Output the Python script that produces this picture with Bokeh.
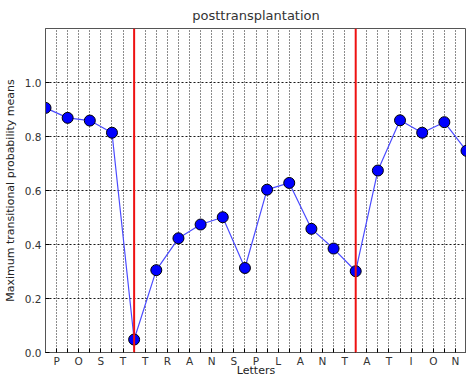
from bokeh.plotting import figure
from bokeh.models import Range1d, FixedTicker, Span, ColumnDataSource, PrintfTickFormatter
from bokeh.embed import file_html
from bokeh.resources import INLINE

# ---- data ----
letters = list("POSTTRANSPLANTATION")
values = [0.906, 0.869, 0.859, 0.814, 0.048, 0.305, 0.423, 0.474, 0.501, 0.313,
          0.603, 0.628, 0.458, 0.385, 0.301, 0.674, 0.860, 0.814, 0.853, 0.747]
boundaries = [4, 14]
y_ticks = [0.0, 0.2, 0.4, 0.6, 0.8, 1.0]

positions = list(range(len(values)))
letter_pos = [i + 0.5 for i in range(len(letters))]

FONT = "DejaVu Sans"

p = figure(width=466, height=379, output_backend="svg", toolbar_location=None,
           x_range=Range1d(0, len(values) - 1), y_range=Range1d(0, 1.2),
           title="posttransplantation",
           min_border_left=43, min_border_right=0, min_border_top=28, min_border_bottom=23)

p.background_fill_color = "white"
p.border_fill_color = "white"
p.outline_line_color = "#555555"
p.outline_line_width = 1

# title
p.title.align = "center"
p.title.text_font = FONT
p.title.text_font_size = "13px"
p.title.text_font_style = "normal"
p.title.text_color = "#333333"
p.title.standoff = 11

# x axis
xa = p.xaxis[0]
xa.ticker = FixedTicker(ticks=letter_pos, minor_ticks=positions)
xa.major_label_overrides = {lp: l for lp, l in zip(letter_pos, letters)}
xa.major_label_text_font = FONT
xa.major_label_text_font_size = "10.5px"
xa.major_label_text_color = "#333333"
xa.major_label_standoff = 2
xa.major_tick_out = 0
xa.major_tick_in = 4
xa.minor_tick_out = 0
xa.minor_tick_in = 4
xa.axis_line_color = "#555555"
xa.axis_label = "Letters"
xa.axis_label_text_font = FONT
xa.axis_label_text_font_size = "11px"
xa.axis_label_text_font_style = "normal"
xa.axis_label_text_color = "#222222"
xa.axis_label_standoff = -6

# y axis
ya = p.yaxis[0]
ya.ticker = FixedTicker(ticks=y_ticks)
ya.formatter = PrintfTickFormatter(format="%.1f")
ya.axis_label = "Maximum transitional probability means"
ya.axis_label_text_font = FONT
ya.axis_label_text_font_size = "11px"
ya.axis_label_text_font_style = "normal"
ya.axis_label_text_color = "#222222"
ya.axis_label_standoff = 5
ya.major_label_text_font = FONT
ya.major_label_text_font_size = "10.5px"
ya.major_label_text_color = "#333333"
ya.major_label_standoff = 4
ya.major_tick_out = 0
ya.major_tick_in = 4
ya.minor_tick_out = 0
ya.minor_tick_in = 0
ya.axis_line_color = "#555555"

# grids
for g in (p.xgrid[0], p.ygrid[0]):
    g.grid_line_color = "black"
    g.grid_line_dash = "1 2"
    g.grid_line_width = 1
    g.grid_line_alpha = 0.9
p.xgrid[0].ticker = FixedTicker(ticks=letter_pos, minor_ticks=positions)
p.xgrid[0].minor_grid_line_color = "black"
p.xgrid[0].minor_grid_line_dash = "1 2"
p.xgrid[0].minor_grid_line_alpha = 0.9
p.ygrid[0].grid_line_dash = "2 2"

# word boundaries
for b in boundaries:
    p.add_layout(Span(location=b, dimension="height", line_color="#ee1111", line_width=2))

src = ColumnDataSource(dict(x=positions, y=values))
p.line("x", "y", source=src, line_color="#4b4bff", line_width=1.2)
p.scatter("x", "y", source=src, size=11, fill_color="#0000ff", line_color="black", line_width=1)

open("out.html", "w").write(file_html(p, INLINE))
